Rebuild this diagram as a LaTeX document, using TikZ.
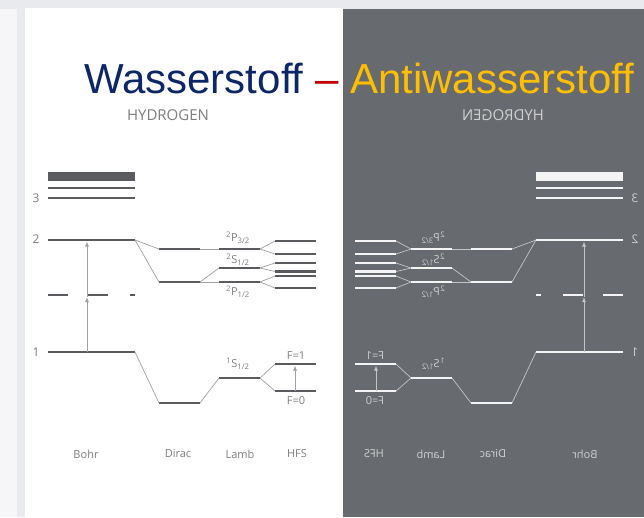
\documentclass[tikz,border=0pt]{standalone}
\usepackage{fontspec}
\setmainfont{Liberation Sans}
\newfontfamily\lblfont{Open Sans}
\usetikzlibrary{arrows.meta}
\definecolor{navy}{HTML}{0C2668}
\definecolor{dashred}{HTML}{C00000}
\definecolor{gold}{HTML}{FFBF00}
\definecolor{panelgray}{HTML}{676A6E}
\definecolor{outergray}{HTML}{E9EAEE}
\definecolor{leftstrip}{HTML}{F6F6F8}
\definecolor{lvldark}{HTML}{5A5B5F}
\definecolor{thindark}{HTML}{A0A0A0}
\definecolor{txtdark}{HTML}{7E7E7E}
\definecolor{lvllight}{HTML}{F4F4F4}
\definecolor{thinlight}{HTML}{C4C5C7}
\definecolor{txtlight}{HTML}{D0D0D0}

\newcommand{\lev}[4]{%
  \coordinate (#1-w) at (#2,#4);
  \coordinate (#1-e) at (#3,#4);
  \draw[lvl] (#1-w) -- (#1-e);}

% #1 level colour, #2 thin colour, #3 text colour, #4 name prefix
\newcommand{\hydro}[4]{%
 \begin{scope}[
   lvl/.style={draw=#1,line width=2.8pt,line cap=butt},
   thn/.style={draw=#2,line width=0.7pt},
   arr/.style={draw=#2,line width=0.9pt,-{Latex[length=5pt,width=4pt]}},
   lbl/.style={text=#3,inner sep=0pt,font=\lblfont\fontsize{11}{13}\selectfont},
   num/.style={text=#3,inner sep=0pt,font=\lblfont\fontsize{12}{14}\selectfont}]
  % Bohr
  \fill[#1] (48,172) rectangle (135,181);
  \lev{#4b3a}{48}{135}{188}
  \lev{#4b3b}{48}{135}{198}
  \lev{#4b2}{48}{135}{240}
  \lev{#4v1}{48}{68}{295}
  \lev{#4v2}{88}{108}{295}
  \lev{#4v3}{130}{135}{295}
  \lev{#4b1}{48}{135}{352}
  % Dirac
  \lev{#4d2u}{159}{200}{249}
  \lev{#4d2l}{159}{200}{282}
  \lev{#4d1}{159}{200}{403}
  % Lamb
  \lev{#4lp3}{219}{260}{249}
  \lev{#4ls}{219}{260}{268}
  \lev{#4lp1}{219}{260}{282}
  \lev{#4l1}{219}{260}{378}
  % HFS
  \lev{#4h1}{275}{316}{241}
  \lev{#4h2}{275}{316}{254}
  \lev{#4h3}{275}{316}{263}
  \lev{#4h4}{275}{316}{271.5}
  \lev{#4h5}{275}{316}{276}
  \lev{#4h6}{275}{316}{288}
  \lev{#4hF1}{275}{316}{364}
  \lev{#4hF0}{275}{316}{391}
  % connectors
  \draw[thn] (#4b2-e) -- (#4d2u-w);
  \draw[thn] (#4b2-e) -- (#4d2l-w);
  \draw[thn] (#4b1-e) -- (#4d1-w);
  \draw[thn] (#4d2u-e) -- (#4lp3-w);
  \draw[thn] (#4d2l-e) -- (#4ls-w);
  \draw[thn] (#4d2l-e) -- (#4lp1-w);
  \draw[thn] (#4d1-e) -- (#4l1-w);
  \draw[thn] (#4lp3-e) -- (#4h1-w);
  \draw[thn] (#4lp3-e) -- (#4h2-w);
  \draw[thn] (#4ls-e) -- (#4h3-w);
  \draw[thn] (#4ls-e) -- (#4h4-w);
  \draw[thn] (#4lp1-e) -- (#4h5-w);
  \draw[thn] (#4lp1-e) -- (#4h6-w);
  \draw[thn] (#4l1-e) -- (#4hF1-w);
  \draw[thn] (#4l1-e) -- (#4hF0-w);
  % transitions
  \coordinate (#4a0) at (87,352);
  \coordinate (#4a1) at (87,297);
  \coordinate (#4a2) at (87,241.5);
  \draw[arr] (#4a0) -- (#4a1);
  \draw[arr] (#4a1) -- (#4a2);
  \coordinate (#4f0) at (295,391);
  \coordinate (#4f1) at (295,365.5);
  \draw[arr] (#4f0) -- (#4f1);
  % labels
  \node[num] (#4n3) at (36,198) {3};
  \node[num] (#4n2) at (36,239) {2};
  \node[num] (#4n1) at (36,352) {1};
  \node[lbl] (#4tp3) at (238,238) {\textsuperscript{2}P\textsubscript{3/2}};
  \node[lbl] (#4ts) at (238,260) {\textsuperscript{2}S\textsubscript{1/2}};
  \node[lbl] (#4tp1) at (238,292) {\textsuperscript{2}P\textsubscript{1/2}};
  \node[lbl] (#4tg) at (238,364) {\textsuperscript{1}S\textsubscript{1/2}};
  \node[lbl] (#4tF1) at (296,356) {F=1};
  \node[lbl] (#4tF0) at (296,401) {F=0};
  \node[lbl] (#4cBohr) at (86,454) {Bohr};
  \node[lbl] (#4cDirac) at (178,454) {Dirac};
  \node[lbl] (#4cLamb) at (240,454) {Lamb};
  \node[lbl] (#4cHFS) at (297,454) {HFS};
  \node[lbl,font=\lblfont\fontsize{15}{17}\selectfont] (#4hyd) at (168,115.5) {HYDROGEN};
 \end{scope}}

\begin{document}
\begin{tikzpicture}[x=1pt,y=-1pt]
  \useasboundingbox (0,0) rectangle (644,517);
  \fill[outergray] (0,0) rectangle (644,517);
  \fill[leftstrip] (0,9) rectangle (17,517);
  \fill[white] (25,8) rectangle (343,517);
  \fill[panelgray] (343,9) rectangle (644,517);
  \hydro{lvldark}{thindark}{txtdark}{L}
  \begin{scope}[shift={(671,0)},xscale=-1,transform shape]
    \hydro{lvllight}{thinlight}{txtlight}{R}
  \end{scope}
  \node[anchor=base west,inner sep=0pt,font=\fontsize{42}{50}\selectfont] (title) at (84,93)
    {\textcolor{navy}{Wasserstoff} \textcolor{dashred}{–} \textcolor{gold}{Antiwasserstoff}};
\end{tikzpicture}
\end{document}
